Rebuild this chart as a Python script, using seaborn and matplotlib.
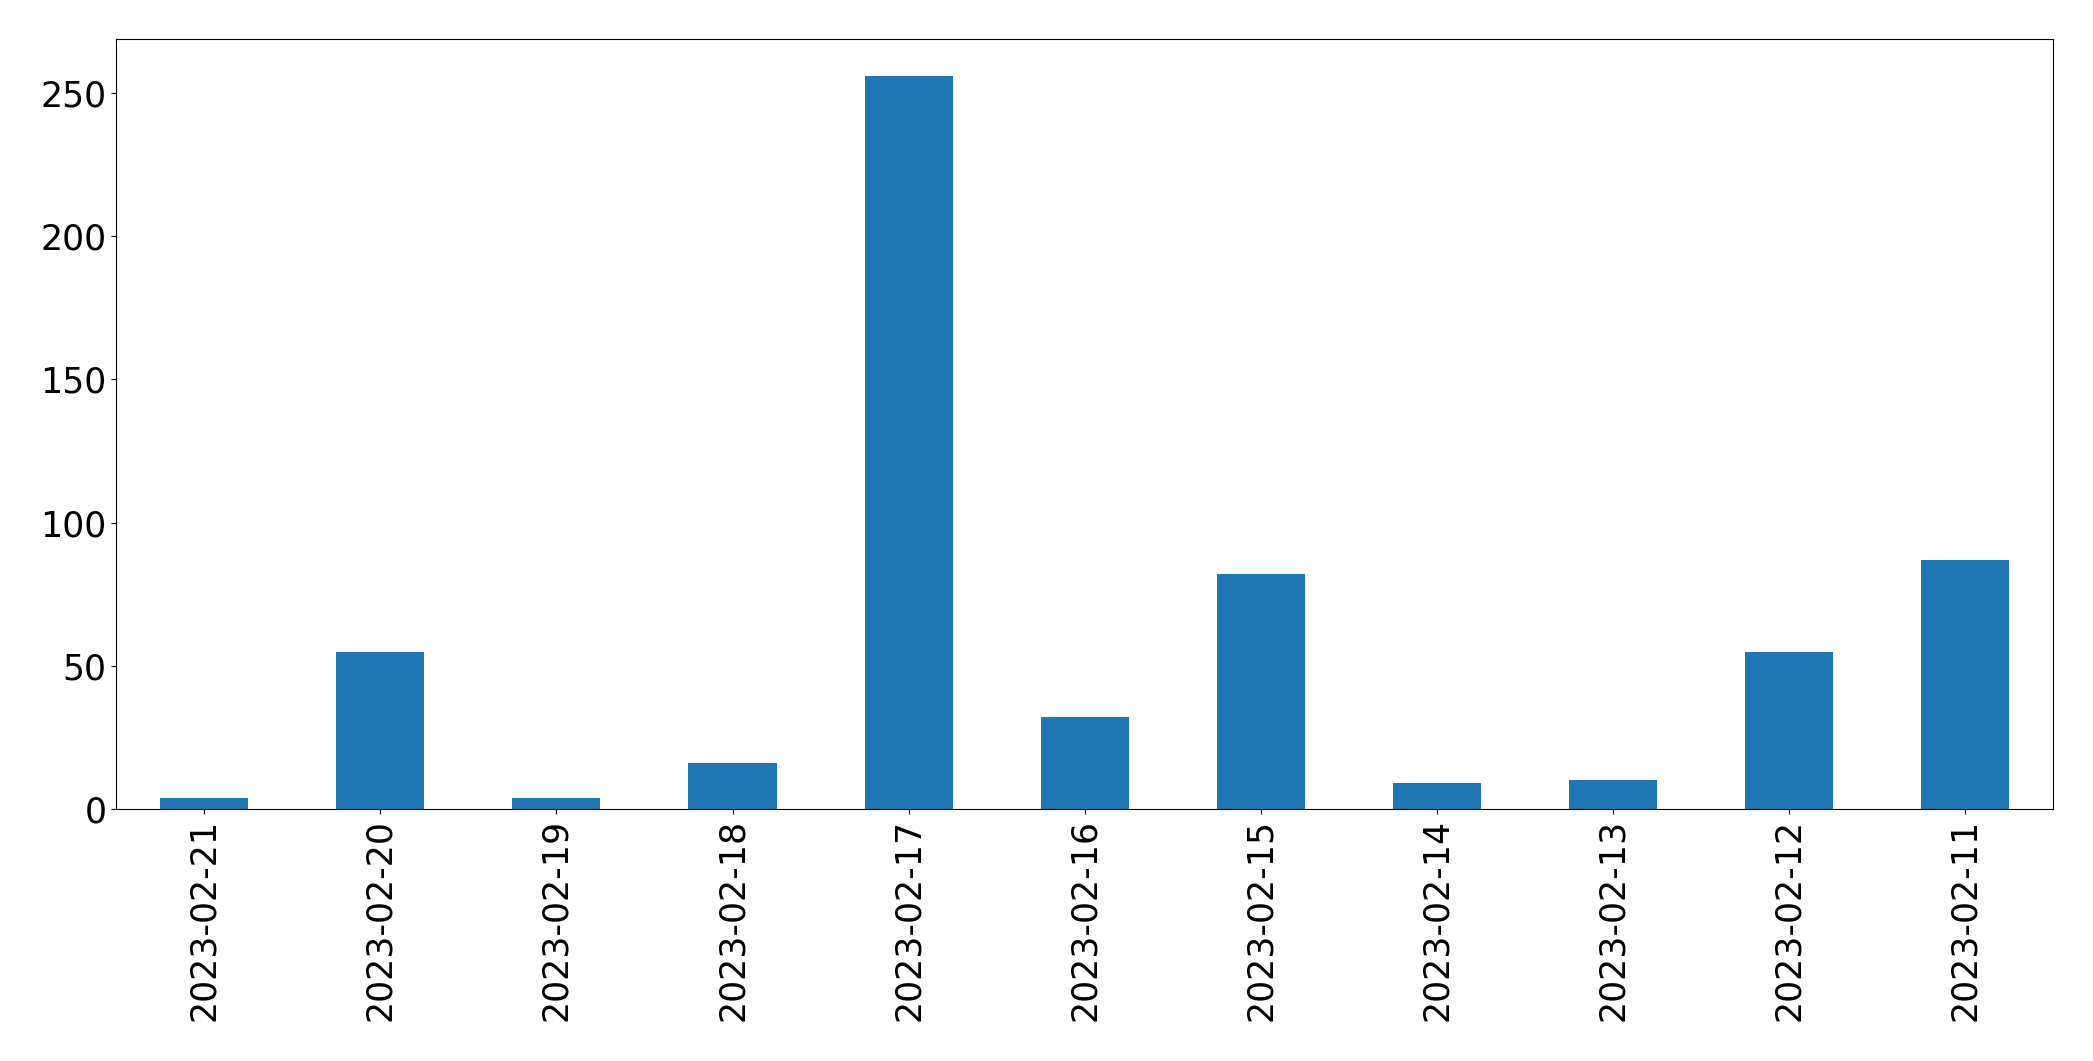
import seaborn as sns, matplotlib.pyplot as plt
import pandas as pd

dates = ["2023-02-21", "2023-02-20", "2023-02-19", "2023-02-18", "2023-02-17", "2023-02-16",
         "2023-02-15", "2023-02-14", "2023-02-13", "2023-02-12", "2023-02-11"]
counts = [4, 55, 4, 16, 256, 32, 82, 9, 10, 55, 87]

df = pd.DataFrame({"date": dates, "count": counts})

fig, ax = plt.subplots(figsize=(20.93, 10.61), dpi=100)
sns.barplot(data=df, x="date", y="count", ax=ax, color="#1f77b4", saturation=1, width=0.5)

ax.set_xlabel("")
ax.set_ylabel("")
ax.tick_params(axis="both", labelsize=25)
ax.tick_params(axis="x", labelrotation=90)
ax.set_xlim(-0.5, len(dates) - 0.5)
ax.set_ylim(0, max(counts) * 1.05)

plt.subplots_adjust(left=0.0555, right=0.981, top=0.963, bottom=0.2375)
plt.savefig("out.png", dpi=100)
